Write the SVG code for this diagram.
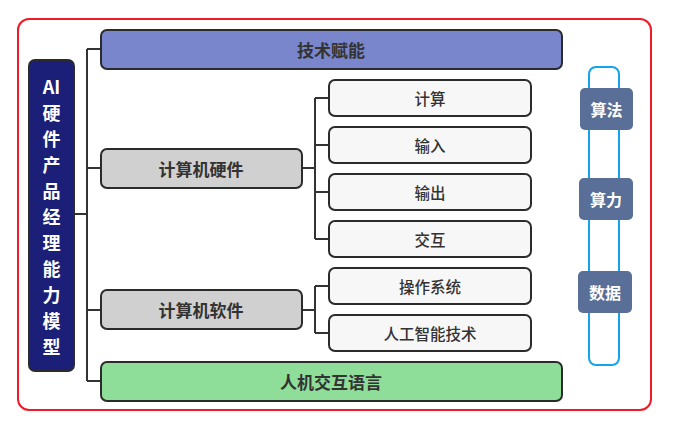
<svg xmlns="http://www.w3.org/2000/svg" width="675" height="430" viewBox="0 0 675 430">
<style>
text{font-family:"Noto Sans CJK SC","Noto Sans",sans-serif;text-anchor:middle;dominant-baseline:central}
.box{stroke:#2b2b2b;stroke-width:2}
.main{font-size:17px;font-weight:bold;fill:#333}
.sub{font-size:15.5px;font-weight:500;fill:#333}
.lab{font-size:16px;font-weight:bold;fill:#fff}
.side{font-size:18px;font-weight:bold;fill:#fff}
.conn{fill:none;stroke:#333;stroke-width:2}
</style>
<rect x="0" y="0" width="675" height="430" fill="#fff"/>
<rect id="frame" x="18" y="19" width="633" height="391" rx="11" fill="none" stroke="#ee1c2a" stroke-width="2"/>
<g id="connectors">
<path class="conn" d="M74 214H87M87 49V381M87 49H101M87 168H101M87 310H101M87 381H101"/>
<path class="conn" d="M302 168H315M315 98V239M315 98H329M315 145H329M315 192H329M315 239H329"/>
<path class="conn" d="M302 310H315M315 286V333M315 286H329M315 333H329"/>
</g>
<g id="title">
<rect class="box" x="29" y="60" width="45" height="311" rx="6" fill="#1b1f78"/>
<text class="side" x="51.5" y="86">AI</text>
<text class="side" x="51.5" y="112">硬</text>
<text class="side" x="51.5" y="138">件</text>
<text class="side" x="51.5" y="164">产</text>
<text class="side" x="51.5" y="190">品</text>
<text class="side" x="51.5" y="216">经</text>
<text class="side" x="51.5" y="242">理</text>
<text class="side" x="51.5" y="268">能</text>
<text class="side" x="51.5" y="294">力</text>
<text class="side" x="51.5" y="320">模</text>
<text class="side" x="51.5" y="346">型</text>
</g>
<g id="n-jishu">
<rect class="box" x="101" y="30" width="461" height="39" rx="6" fill="#7986cb"/>
<text class="main" x="331" y="49">技术赋能</text>
</g>
<g id="n-hardware">
<rect class="box" x="101" y="149" width="201" height="39" rx="6" fill="#d0d0d0"/>
<text class="main" x="201" y="168">计算机硬件</text>
</g>
<g id="n-software">
<rect class="box" x="101" y="290" width="201" height="39" rx="6" fill="#d0d0d0"/>
<text class="main" x="201" y="309">计算机软件</text>
</g>
<g id="n-hci">
<rect class="box" x="101" y="362" width="461" height="39" rx="6" fill="#8ede99"/>
<text class="main" x="331" y="381">人机交互语言</text>
</g>
<g id="n-compute">
<rect class="box" x="329" y="80" width="202" height="36" rx="6" fill="#f7f7f7"/>
<text class="sub" x="430" y="97.5">计算</text>
</g>
<g id="n-input">
<rect class="box" x="329" y="127" width="202" height="36" rx="6" fill="#f7f7f7"/>
<text class="sub" x="430" y="144.5">输入</text>
</g>
<g id="n-output">
<rect class="box" x="329" y="174" width="202" height="36" rx="6" fill="#f7f7f7"/>
<text class="sub" x="430" y="191.5">输出</text>
</g>
<g id="n-interact">
<rect class="box" x="329" y="221" width="202" height="36" rx="6" fill="#f7f7f7"/>
<text class="sub" x="430" y="238.5">交互</text>
</g>
<g id="n-os">
<rect class="box" x="329" y="268" width="202" height="36" rx="6" fill="#f7f7f7"/>
<text class="sub" x="430" y="285.5">操作系统</text>
</g>
<g id="n-ai">
<rect class="box" x="329" y="315" width="202" height="36" rx="6" fill="#f7f7f7"/>
<text class="sub" x="430" y="332.5">人工智能技术</text>
</g>
<g id="bracket">
<rect x="589" y="67" width="30" height="298" rx="7" fill="none" stroke="#14a4ec" stroke-width="2"/>
</g>
<g id="n-algo">
<rect x="580" y="88" width="53" height="42" rx="5" fill="#5a6f97"/>
<text class="lab" x="606.5" y="109">算法</text>
</g>
<g id="n-power">
<rect x="579" y="178" width="54" height="42" rx="5" fill="#5a6f97"/>
<text class="lab" x="606" y="199">算力</text>
</g>
<g id="n-data">
<rect x="578" y="271" width="54" height="42" rx="5" fill="#5a6f97"/>
<text class="lab" x="605" y="292">数据</text>
</g>
</svg>
